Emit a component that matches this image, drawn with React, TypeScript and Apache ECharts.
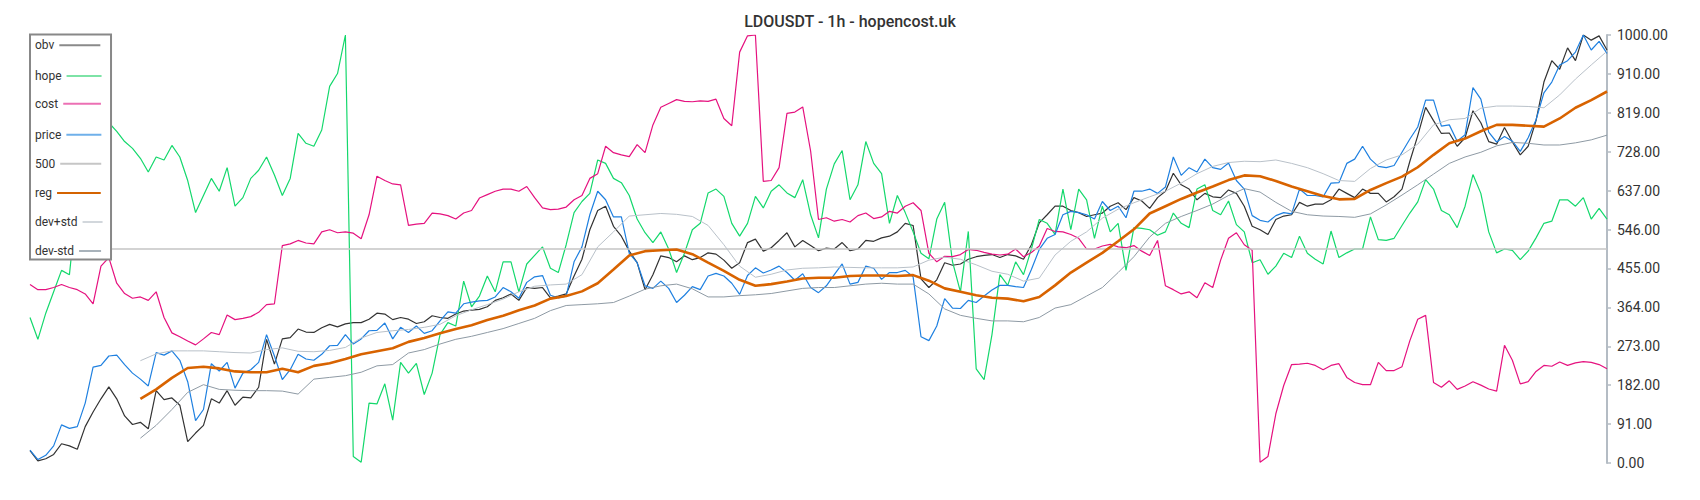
import React, { useEffect, useRef } from "react";
import * as echarts from "echarts";

const TITLE = "LDOUSDT - 1h - hopencost.uk";
const seriesNames = ["obv", "hope", "cost", "price", "500", "reg", "dev+std", "dev-std"];

// hourly series (201 samples)
const obv = [
  29, 5, 10, 20, 45, 40, 32, 85, 119, 150,
  178, 150, 110, 90, 95, 80, 169, 148, 152, 135,
  50, 70, 88, 150, 140, 169, 135, 154, 152, 177,
  289, 231, 290, 293, 313, 306, 305, 316, 324, 318,
  325, 328, 328, 336, 350, 348, 335, 340, 336, 326,
  330, 344, 340, 338, 348, 355, 357, 359, 365, 380,
  386, 395, 380, 410, 408, 410, 386, 390, 395, 437,
  476, 545, 590, 600, 553, 530, 495, 468, 405, 440,
  484, 480, 470, 484, 475, 480, 491, 488, 474, 455,
  468, 515, 523, 495, 503, 520, 538, 505, 520, 508,
  496, 502, 500, 515, 496, 500, 520, 518, 526, 530,
  540, 560, 555, 430, 410, 428, 468, 462, 465, 476,
  482, 485, 487, 480, 487, 484, 476, 510, 561, 580,
  600, 600, 590, 585, 576, 580, 584, 600, 608, 592,
  620, 612, 595, 620, 635, 677, 650, 640, 615, 630,
  622, 620, 638, 630, 600, 553, 545, 534, 569, 577,
  580, 609, 600, 605, 605, 615, 640, 630, 620, 640,
  630, 630, 610, 622, 640, 705, 765, 831, 800, 770,
  771, 740, 760, 823, 795, 751, 745, 784, 750, 720,
  740, 800, 890, 940, 920, 970, 940, 1000, 988, 998,
  965,
];

const hope = [
  340, 289, 350, 400, 450, 440, 620, 700, 760, 800,
  795, 775, 751, 735, 712, 680, 715, 708, 742, 715,
  660, 585, 625, 665, 635, 690, 600, 620, 665, 684,
  715, 673, 625, 665, 770, 747, 740, 778, 880, 910,
  1000, 15, 2, 140, 138, 185, 100, 235, 210, 233,
  160, 210, 300, 328, 320, 425, 365, 390, 437, 400,
  470, 470, 400, 465, 485, 505, 455, 445, 510, 585,
  611, 630, 708, 700, 665, 655, 625, 570, 538, 515,
  540, 500, 445, 490, 545, 560, 631, 640, 623, 560,
  530, 560, 623, 596, 635, 650, 631, 620, 662, 580,
  526, 640, 699, 730, 615, 650, 751, 700, 676, 560,
  625, 585, 540, 490, 477, 570, 609, 470, 400, 541,
  220, 195, 300, 440, 415, 470, 440, 500, 569, 560,
  534, 640, 545, 640, 615, 525, 600, 540, 560, 450,
  550, 548, 545, 532, 540, 584, 560, 550, 640, 650,
  590, 580, 612, 557, 540, 468, 475, 441, 460, 490,
  480, 530, 490, 476, 465, 542, 480, 491, 500, 500,
  575, 522, 520, 525, 555, 584, 610, 662, 640, 590,
  580, 550, 600, 674, 630, 540, 491, 500, 497, 475,
  495, 526, 560, 565, 615, 615, 600, 620, 570, 595,
  570,
];

const cost = [
  417, 405, 405, 410, 417, 410, 405, 395, 372, 460,
  480, 420, 396, 385, 388, 380, 400, 340, 304, 295,
  285, 276, 290, 305, 300, 346, 335, 338, 342, 352,
  370, 372, 508, 512, 520, 514, 512, 540, 545, 538,
  540, 537, 524, 580, 670, 660, 652, 650, 555, 558,
  560, 584, 582, 578, 570, 584, 590, 619, 627, 635,
  640, 640, 635, 646, 620, 596, 592, 593, 598, 615,
  625, 665, 676, 740, 725, 720, 716, 744, 725, 790,
  831, 840, 849, 845, 844, 846, 845, 850, 805, 788,
  960, 998, 1000, 658, 660, 690, 817, 820, 832, 729,
  569, 573, 565, 569, 563, 578, 584, 571, 575, 588,
  584, 600, 608, 590, 490, 470, 483, 482, 487, 499,
  497, 492, 488, 486, 488, 500, 482, 492, 507, 548,
  541, 540, 534, 525, 500, 500, 507, 511, 505, 503,
  508, 495, 485, 520, 414, 405, 395, 400, 386, 421,
  410, 474, 525, 538, 510, 497, 2, 15, 115, 181,
  230, 231, 233, 228, 218, 228, 232, 200, 188, 183,
  183, 235, 216, 216, 225, 286, 336, 345, 188, 177,
  192, 172, 180, 190, 182, 173, 168, 275, 240, 185,
  190, 214, 228, 226, 236, 228, 234, 237, 235, 230,
  220,
];

const price = [
  30, 8, 18, 40, 89, 81, 85, 140, 224, 228,
  250, 252, 230, 210, 196, 180, 258, 252, 262, 240,
  190, 99, 125, 232, 215, 235, 175, 210, 218, 235,
  300, 250, 195, 218, 254, 243, 240, 254, 274, 275,
  300, 278, 290, 309, 310, 327, 290, 317, 305, 320,
  303, 309, 332, 353, 350, 372, 376, 379, 380, 388,
  410, 400, 385, 422, 435, 438, 392, 386, 390, 470,
  505, 580, 635, 615, 575, 575, 490, 468, 414, 408,
  425, 408, 375, 392, 412, 405, 437, 443, 437, 420,
  394, 438, 456, 444, 451, 460, 445, 427, 442, 410,
  398, 414, 440, 465, 418, 422, 460, 455, 429, 445,
  445, 450, 435, 295, 286, 320, 384, 362, 361, 380,
  375, 390, 404, 415, 415, 412, 410, 452, 499, 525,
  534, 580, 588, 585, 580, 570, 611, 590, 600, 573,
  635, 635, 640, 630, 645, 715, 672, 690, 680, 710,
  690, 686, 701, 660, 640, 578, 567, 563, 578, 585,
  582, 640, 625, 625, 622, 654, 655, 700, 710, 740,
  710, 693, 690, 695, 726, 757, 785, 848, 848, 787,
  790, 752, 767, 877, 850, 773, 750, 763, 752, 728,
  760, 802, 865, 890, 930, 940, 960, 1000, 965, 985,
  957,
];

// regression band (101 samples, starts after warm-up)
const reg = [
  null, null, null, null, null, null, null,
  150, 172, 199, 222, 225, 221, 214, 212, 212, 220, 212, 227, 233, 243,
  254, 261, 268, 283, 292, 303, 313, 322, 334, 344, 357, 368, 384, 390,
  401, 420, 452, 485, 495, 497, 499, 488, 468, 449, 428, 414, 418, 424,
  431, 433, 433, 437, 438, 438, 437, 439, 426, 408, 400, 392, 386, 384,
  378, 388, 415, 445, 468, 491, 518, 546, 583, 600, 617, 632, 646, 661,
  672, 670, 659, 646, 635, 624, 616, 617, 638, 654, 669, 691, 720, 747,
  758, 775, 790, 790, 788, 786, 805, 830, 848, 868,
];

const devUp = [
  null, null, null, null, null, null, null,
  239, 255, 262, 262, 262, 260, 258, 257, 265, 269, 261, 260, 263, 270,
  292, 305, 309, 312, 317, 324, 344, 358, 370, 383, 400, 413, 416, 418,
  440, 505, 540, 577, 580, 583, 581, 576, 555, 510, 460, 434, 441, 451,
  455, 456, 458, 457, 456, 456, 456, 458, 474, 481, 476, 463, 448, 441,
  425, 432, 486, 518, 540, 572, 593, 608, 622, 635, 654, 676, 693, 702,
  705, 704, 708, 700, 690, 676, 660, 658, 688, 708, 720, 745, 790, 802,
  805, 829, 834, 834, 833, 830, 860, 897, 930, 962,
];

const devDown = [
  null, null, null, null, null, null, null,
  58, 88, 125, 165, 183, 172, 170, 169, 169, 168, 161, 196, 200, 204,
  212, 227, 230, 257, 265, 278, 289, 296, 305, 314, 326, 338, 356, 368,
  370, 372, 375, 390, 406, 414, 418, 407, 388, 388, 391, 393, 396, 402,
  408, 410, 410, 414, 418, 420, 418, 418, 395, 360, 345, 338, 332, 332,
  330, 340, 362, 370, 390, 410, 445, 482, 528, 560, 576, 590, 605, 625,
  641, 633, 609, 588, 580, 577, 576, 574, 582, 603, 626, 650, 675, 700,
  715, 726, 741, 749, 747, 743, 743, 748, 755, 766,
];

const level500 = [500, 500];

const Y_MIN = 0;
const Y_MAX = 1000;
const Y_STEPS = 11;

const candleSlots = obv.map((_, i) => `h${i}`);
const bandSlots = reg.map((_, i) => `b${i}`);
const levelSlots = ["first", "last"];

// styles
const lineColor: Record<string, string> = {
  obv: "#333333",
  hope: "#14d86c",
  cost: "#e5127f",
  price: "#1f80e0",
  "500": "#c4c4c4",
  reg: "#d86300",
  "dev+std": "#b9c1c9",
  "dev-std": "#8e9aa4",
};
const lineWidth: Record<string, number> = {
  obv: 1.2,
  hope: 1.2,
  cost: 1.2,
  price: 1.2,
  "500": 1.6,
  reg: 2.6,
  "dev+std": 1,
  "dev-std": 1,
};
const legendIconColor: Record<string, string> = {
  obv: "#8a8a8a",
  hope: "#7de3a6",
  cost: "#ec70b4",
  price: "#6fb0ea",
  "500": "#c6c6c6",
  reg: "#d46300",
  "dev+std": "#d2d7dc",
  "dev-std": "#a8b2ba",
};
const legendRowCenter = [45.3, 76, 103.7, 134.7, 163.7, 193, 222, 251];
const legendIconWidth = [41, 35, 37.7, 35, 41, 43.7, 20, 22];
const LEGEND_BOX = { left: 30, top: 34.5, right: 111, bottom: 259.5 };
const LEGEND_TEXT_LEFT = 35;
const LEGEND_ROW_HALF = 6;

const seriesData: Record<string, { data: (number | null)[]; axis: number }> = {
  obv: { data: obv, axis: 0 },
  hope: { data: hope, axis: 0 },
  cost: { data: cost, axis: 0 },
  price: { data: price, axis: 0 },
  "500": { data: level500, axis: 2 },
  reg: { data: reg, axis: 1 },
  "dev+std": { data: devUp, axis: 1 },
  "dev-std": { data: devDown, axis: 1 },
};

function legendFor(name: string, k: number) {
  const base: any = {
    orient: "vertical",
    align: "right",
    icon: "rect",
    itemWidth: legendIconWidth[k],
    itemHeight: 2,
    itemGap: 0,
    textStyle: { fontSize: 12, color: "#333333", fontFamily: "Roboto" },
    data: [{ name, itemStyle: { color: legendIconColor[name], borderWidth: 0 } }],
  };
  if (k === 0) {
    // first row also carries the framed white box of the whole legend
    const rowTop = legendRowCenter[0] - LEGEND_ROW_HALF;
    const rowBottom = legendRowCenter[0] + LEGEND_ROW_HALF;
    const rowRight = LEGEND_TEXT_LEFT + 19.3 + 5 + legendIconWidth[0];
    return {
      ...base,
      z: 10,
      left: LEGEND_BOX.left,
      top: LEGEND_BOX.top,
      padding: [
        rowTop - LEGEND_BOX.top,
        LEGEND_BOX.right - rowRight,
        LEGEND_BOX.bottom - rowBottom,
        LEGEND_TEXT_LEFT - LEGEND_BOX.left,
      ],
      backgroundColor: "#ffffff",
      borderColor: "#888888",
      borderWidth: 2,
    };
  }
  return {
    ...base,
    z: 11,
    left: LEGEND_TEXT_LEFT,
    top: legendRowCenter[k] - LEGEND_ROW_HALF,
    padding: 0,
  };
}

function buildOption() {
  return {
    animation: false,
    backgroundColor: "#ffffff",
    textStyle: { fontFamily: "Roboto" },
    title: {
      text: TITLE,
      left: "center",
      top: 8,
      textStyle: { fontSize: 16, fontWeight: 500, color: "#333333", fontFamily: "Roboto" },
    },
    grid: { left: 30, right: 93, top: 35, bottom: 37 },
    xAxis: [
      { type: "category", data: candleSlots, boundaryGap: false, show: false },
      { type: "category", data: bandSlots, boundaryGap: false, show: false },
      { type: "category", data: levelSlots, boundaryGap: false, show: false },
    ],
    yAxis: {
      type: "value",
      position: "right",
      min: Y_MIN,
      max: Y_MAX,
      interval: (Y_MAX - Y_MIN) / Y_STEPS,
      splitLine: { show: false },
      axisLine: { show: true, lineStyle: { color: "#b4bcc4", width: 2 } },
      axisTick: { show: true, length: 4, lineStyle: { color: "#b4bcc4", width: 1.5 } },
      axisLabel: {
        margin: 10,
        fontSize: 14,
        color: "#333333",
        fontFamily: "Roboto",
        formatter: (v: number) => Math.ceil(v - 1e-6).toFixed(2),
      },
    },
    legend: seriesNames.map((name, k) => legendFor(name, k)),
    series: seriesNames.map((name) => ({
      name,
      type: "line",
      z: 2,
      xAxisIndex: seriesData[name].axis,
      data: seriesData[name].data,
      symbol: "none",
      showSymbol: false,
      color: lineColor[name],
      lineStyle: { color: lineColor[name], width: lineWidth[name] },
      emphasis: { disabled: true },
    })),
  };
}

export default function App() {
  const ref = useRef<HTMLDivElement>(null);
  useEffect(() => {
    if (!ref.current) return;
    const chart = echarts.init(ref.current, null, { renderer: "svg" });
    chart.setOption(buildOption() as any);
    return () => chart.dispose();
  }, []);
  return (
    <div
      ref={ref}
      style={{ position: "fixed", left: 0, top: 0, width: 1700, height: 500, background: "#ffffff" }}
    />
  );
}
